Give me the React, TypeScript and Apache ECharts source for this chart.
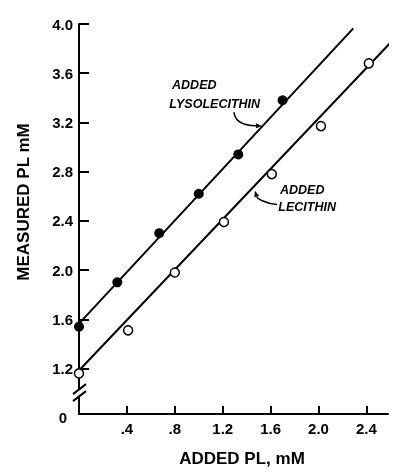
import React, { useEffect, useRef } from 'react';
import * as echarts from 'echarts';

// Added lysolecithin (filled circles)
const lysoX = [0, 0.32, 0.67, 1.0, 1.33, 1.70];
const lysoY = [1.54, 1.90, 2.30, 2.62, 2.94, 3.38];
// Added lecithin (open circles)
const leciX = [0, 0.41, 0.80, 1.21, 1.61, 2.02, 2.42];
const leciY = [1.16, 1.51, 1.98, 2.39, 2.78, 3.17, 3.68];
// Fitted lines (end points)
const lysoFitX = [0, 2.29];
const lysoFitY = [1.565, 3.965];
const leciFitX = [0, 2.70];
const leciFitY = [1.184, 3.95];
// Axis ticks
const xTicks = [0.4, 0.8, 1.2, 1.6, 2.0, 2.4];
const yTicks = [1.2, 1.6, 2.0, 2.4, 2.8, 3.2, 3.6, 4.0];
// The y axis is broken: its bottom (at the x axis) is labelled 0
const yAxisBottom = 0.83;
const yBreakAt = 1.0;

const zip = (xs: number[], ys: number[]) => xs.map((x, i) => [x, ys[i]]);

export default function App() {
  const ref = useRef<HTMLDivElement>(null);
  useEffect(() => {
    const chart = echarts.init(ref.current!, null, { renderer: 'svg' });
    const font = "'Liberation Sans', Arial, sans-serif";
    const labelStyle = { fontFamily: font, fontWeight: 'bold', fontSize: 15, color: '#000' };
    chart.setOption({
      animation: false,
      grid: { left: 79, right: 16, top: 24, bottom: 54 },
      xAxis: {
        type: 'value',
        min: 0,
        max: 2.58,
        name: 'ADDED PL, mM',
        nameLocation: 'middle',
        nameGap: 36,
        nameTextStyle: { fontFamily: font, fontWeight: 'bold', fontSize: 17, color: '#000', padding: [0, 0, 0, 17] },
        axisLine: { onZero: false, lineStyle: { color: '#000', width: 2 } },
        axisTick: { inside: true, length: 8, customValues: xTicks, lineStyle: { color: '#000', width: 2 } },
        axisLabel: {
          ...labelStyle,
          customValues: xTicks,
          margin: 7,
          formatter: (v: number) => (v < 1 ? '.' + Math.round(v * 10) : v.toFixed(1)),
        },
        splitLine: { show: false },
      },
      yAxis: {
        type: 'value',
        min: yAxisBottom,
        max: 4.0,
        name: 'MEASURED PL mM',
        nameLocation: 'middle',
        nameGap: 47,
        nameTextStyle: { fontFamily: font, fontWeight: 'bold', fontSize: 17, color: '#000', padding: [0, 0, 0, 34] },
        axisLine: { onZero: false, lineStyle: { color: '#000', width: 2 } },
        axisTick: { inside: true, length: 10, customValues: yTicks, lineStyle: { color: '#000', width: 2 } },
        axisLabel: {
          ...labelStyle,
          customValues: [yAxisBottom, ...yTicks],
          margin: 6,
          formatter: (v: number) => (v < 1 ? '{z|0}' : v.toFixed(1)),
          rich: { z: { ...labelStyle, padding: [6, 6, 0, 0] } },
        },
        splitLine: { show: false },
      },
      series: [
        {
          name: 'Lysolecithin fit',
          type: 'line',
          data: zip(lysoFitX, lysoFitY),
          symbol: 'none',
          clip: false,
          lineStyle: { color: '#000', width: 2 },
        },
        {
          name: 'Lecithin fit',
          type: 'line',
          data: zip(leciFitX, leciFitY),
          symbol: 'none',
          clip: false,
          lineStyle: { color: '#000', width: 2 },
        },
        {
          name: 'Added lysolecithin',
          type: 'scatter',
          data: zip(lysoX, lysoY),
          symbol: 'circle',
          symbolSize: 10,
          clip: false,
          itemStyle: { color: '#000', opacity: 1 },
          z: 5,
        },
        {
          name: 'Added lecithin',
          type: 'scatter',
          data: zip(leciX, leciY),
          symbol: 'circle',
          symbolSize: 9,
          clip: false,
          itemStyle: { color: '#fff', borderColor: '#000', borderWidth: 1.5, opacity: 1 },
          z: 5,
        },
      ],
    });

    const p = (x: number, y: number) => chart.convertToPixel({ gridIndex: 0 } as any, [x, y]) as number[];
    const annoFont = { fontFamily: font, fontWeight: 'bold', fontStyle: 'italic', fontSize: 12.5, fill: '#000' };
    const text = (x: number, y: number, t: string) => {
      const q = p(x, y);
      return { type: 'text', x: q[0], y: q[1], style: { ...annoFont, text: t, verticalAlign: 'middle' } };
    };
    const arrow = (s: number[], c1: number[], c2: number[], e: number[]) => {
      const a = p(s[0], s[1]);
      const b = p(c1[0], c1[1]);
      const c = p(c2[0], c2[1]);
      const d = p(e[0], e[1]);
      const dx = d[0] - c[0];
      const dy = d[1] - c[1];
      const L = Math.hypot(dx, dy) || 1;
      const ux = dx / L;
      const uy = dy / L;
      const size = 6;
      const w = 2.5;
      const bx = d[0] - ux * size;
      const by = d[1] - uy * size;
      return [
        {
          type: 'bezierCurve',
          shape: { x1: a[0], y1: a[1], cpx1: b[0], cpy1: b[1], cpx2: c[0], cpy2: c[1], x2: bx, y2: by },
          style: { stroke: '#000', lineWidth: 1.5, fill: null },
        },
        {
          type: 'polygon',
          shape: { points: [[d[0], d[1]], [bx - uy * w, by + ux * w], [bx + uy * w, by - ux * w]] },
          style: { fill: '#000' },
        },
      ];
    };
    const br = p(0, yBreakAt);
    chart.setOption({
      graphic: [
        { type: 'rect', shape: { x: br[0] - 4, y: br[1] - 4, width: 8, height: 8 }, style: { fill: '#fff' }, z: 100 },
        { type: 'line', shape: { x1: br[0] - 6, y1: br[1] + 1, x2: br[0] + 7, y2: br[1] - 9 }, style: { stroke: '#000', lineWidth: 2 }, z: 101 },
        { type: 'line', shape: { x1: br[0] - 6, y1: br[1] + 8, x2: br[0] + 7, y2: br[1] - 2 }, style: { stroke: '#000', lineWidth: 2 }, z: 101 },
        text(0.777, 3.504, 'ADDED'),
        text(0.754, 3.346, 'LYSOLECITHIN'),
        text(1.678, 2.654, 'ADDED'),
        text(1.664, 2.515, 'LECITHIN'),
        ...arrow([1.294, 3.284], [1.302, 3.2], [1.38, 3.175], [1.528, 3.171]),
        ...arrow([1.653, 2.532], [1.56, 2.54], [1.49, 2.58], [1.469, 2.645]),
      ],
    });
    return () => chart.dispose();
  }, []);
  return <div ref={ref} style={{ position: 'fixed', left: 0, top: 0, width: 404, height: 472 }} />;
}
